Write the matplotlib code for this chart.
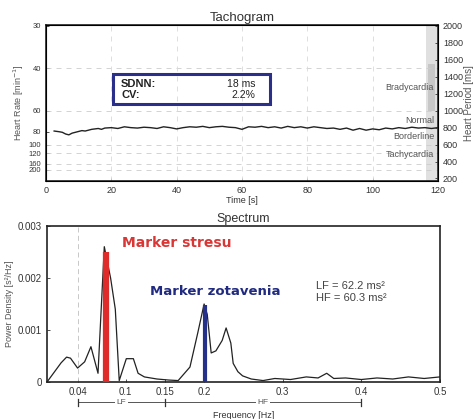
import matplotlib
matplotlib.use('Agg')
import matplotlib.pyplot as plt
import matplotlib.transforms as mtransforms

plt.rcParams['font.family'] = ['Liberation Sans', 'DejaVu Sans']

# tachogram: time [s] and heart period [ms]
time_s = [2.5, 4, 5, 6, 7, 8, 9, 10, 11, 12, 14, 16, 17, 18, 20, 22, 24, 26, 28, 30,
          32, 34, 36, 38, 40, 42, 44, 46, 48, 50, 52, 54, 56, 58, 60, 62, 64, 66, 68, 70,
          72, 74, 76, 78, 80, 82, 84, 86, 88, 90, 92, 94, 96, 98, 100, 102, 104, 106, 108,
          110, 112, 114, 116, 118, 120]
period_ms = [760, 752, 745, 725, 715, 735, 745, 755, 765, 760, 780, 790, 780, 795, 800, 790,
             810, 800, 795, 805, 800, 790, 810, 800, 785, 800, 810, 805, 815, 800, 810, 815,
             805, 800, 780, 810, 805, 815, 800, 810, 795, 815, 800, 810, 795, 810, 800, 790,
             795, 780, 795, 770, 790, 770, 785, 775, 795, 785, 800, 790, 805, 795, 800, 790, 800]

hr_ticks = [30, 40, 60, 80, 100, 120, 160, 200]
period_ticks = [200, 400, 600, 800, 1000, 1200, 1400, 1600, 1800, 2000]
time_ticks = [0, 20, 40, 60, 80, 100, 120]
zones = ['Bradycardia', 'Normal', 'Borderline', 'Tachycardia']
zone_levels = [1270, 880, 690, 480]

# spectrum: frequency [Hz] and power density [s^2/Hz]
freq = [0.0, 0.018, 0.025, 0.030, 0.039, 0.048, 0.056, 0.065, 0.073, 0.077, 0.081, 0.087,
        0.092, 0.101, 0.110, 0.116, 0.124, 0.14, 0.155, 0.167, 0.182, 0.192, 0.200, 0.204,
        0.209, 0.215, 0.223, 0.228, 0.234, 0.237, 0.243, 0.249, 0.26, 0.275, 0.29, 0.31,
        0.33, 0.345, 0.356, 0.365, 0.38, 0.40, 0.42, 0.44, 0.46, 0.48, 0.5]
psd = [0.0, 0.37, 0.48, 0.46, 0.27, 0.39, 0.68, 0.17, 2.6, 2.3, 2.0, 1.4, 0.03, 0.45, 0.45,
       0.17, 0.10, 0.06, 0.04, 0.03, 0.29, 0.95, 1.5, 1.3, 0.56, 0.60, 0.80, 1.04, 0.75,
       0.36, 0.20, 0.12, 0.06, 0.03, 0.07, 0.05, 0.10, 0.08, 0.17, 0.07, 0.08, 0.05, 0.08,
       0.06, 0.10, 0.07, 0.10]
psd = [v * 1e-3 for v in psd]
freq_ticks = [0.04, 0.1, 0.15, 0.2, 0.3, 0.4, 0.5]
psd_ticks = [0, 0.001, 0.002, 0.003]
stress_f, stress_p = 0.075, 0.0025
recov_f, recov_p = 0.201, 0.00149

txt = '#333333'
fig = plt.figure(figsize=(4.74, 4.19), dpi=100)

# ---------------- Tachogram ----------------
ax = fig.add_axes([0.097, 0.568, 0.827, 0.372])
ax.set_xlim(0, 120)
ax.set_ylim(170, 2010)
for p in [1500, 1000, 600, 500, 375, 300]:
    ax.axhline(p, color='0.8', lw=0.6, ls=(0, (6, 6)))
for t in time_ticks[1:-1]:
    ax.axvline(t, color='0.85', lw=0.6, ls=(0, (6, 6)))
ax.axvspan(116.2, 119.6, color='0.88', lw=0)
ax.axvspan(116.8, 119.2, ymin=0.45, ymax=0.75, color='0.78', lw=0)
ax.plot(time_s, period_ms, color='#222222', lw=1.0)
for name, lvl in zip(zones, zone_levels):
    ax.text(118.8, lvl, name, ha='right', va='center', fontsize=6.5, color='#555555')

ax.set_xticks(time_ticks)
ax.set_yticks([60000 / h for h in hr_ticks])
ax.set_yticklabels([str(h) for h in hr_ticks])
ax.tick_params(direction='in', labelsize=6.5, colors=txt, length=2, width=0.6)
ax.tick_params(axis='y', labelsize=5.5)
ax.set_title('Tachogram', fontsize=9.5, color=txt, pad=3)
ax.set_xlabel('Time [s]', fontsize=6.5, color=txt, labelpad=1)
ax.set_ylabel('Heart Rate [min$^{-1}$]', fontsize=6.5, color='#555555', labelpad=2)
for s in ax.spines.values():
    s.set_linewidth(1.2)
    s.set_color('#222222')

ax2 = ax.twinx()
ax2.set_ylim(170, 2010)
ax2.set_yticks(period_ticks)
ax2.tick_params(direction='in', labelsize=6.5, colors=txt, length=2, width=0.6)
ax2.set_ylabel('Heart Period [ms]', fontsize=7, color='#555555', labelpad=1)

ax.add_patch(plt.Rectangle((20.5, 1080), 48, 350, fill=False, ec='#2a2f8a', lw=2.2, zorder=5))
ax.text(23, 1320, 'SDNN:', fontsize=8, fontweight='bold', color='#222222', va='center')
ax.text(23, 1180, 'CV:', fontsize=8, fontweight='bold', color='#222222', va='center')
ax.text(64, 1320, '18 ms', fontsize=7.5, color='#222222', va='center', ha='right')
ax.text(64, 1180, '2.2%', fontsize=7.5, color='#222222', va='center', ha='right')

# ---------------- Spectrum ----------------
bx = fig.add_axes([0.099, 0.088, 0.829, 0.373])
bx.set_xlim(0, 0.5)
bx.set_ylim(0, 0.003)
bx.axvline(0.04, color='0.75', lw=0.6, ls=(0, (6, 4)))
bx.plot(freq, psd, color='#222222', lw=0.9)
bx.vlines(stress_f, 0, stress_p, color='#e02b2b', lw=4.5, zorder=3)
bx.vlines(recov_f, 0, recov_p, color='#24308a', lw=3, zorder=3)
bx.text(0.095, 0.00268, 'Marker stresu', fontsize=10, fontweight='bold', color='#d93636',
        family='DejaVu Sans', va='center')
bx.text(0.131, 0.00174, 'Marker zotavenia', fontsize=9.5, fontweight='bold', color='#1f2a80',
        family='DejaVu Sans', va='center')
bx.text(0.342, 0.00184, 'LF = 62.2 ms²', fontsize=8, color='#444444', va='center')
bx.text(0.342, 0.00162, 'HF = 60.3 ms²', fontsize=8, color='#444444', va='center')

bx.set_xticks(freq_ticks)
bx.set_xticklabels(['0.04', '0.1', '0.15', '0.2', '0.3', '0.4', '0.5'])
bx.set_yticks(psd_ticks)
bx.set_yticklabels(['0', '0.001', '0.002', '0.003'])
bx.tick_params(direction='in', labelsize=7, colors=txt, length=2, width=0.6)
bx.set_title('Spectrum', fontsize=9, color=txt, pad=3)
bx.set_ylabel('Power Density [s²/Hz]', fontsize=6.5, color='#555555', labelpad=3)
bx.set_xlabel('Frequency [Hz]', fontsize=6.5, color=txt, labelpad=10)
for s in bx.spines.values():
    s.set_linewidth(1.2)
    s.set_color('#222222')

# LF / HF band brackets under the axis
trans = mtransforms.blended_transform_factory(bx.transData, bx.transAxes)
yb = -0.13
bx.plot([0.04, 0.4], [yb, yb], color='#555555', lw=0.7, transform=trans, clip_on=False)
for f in [0.04, 0.15, 0.4]:
    bx.plot([f, f], [yb - 0.025, yb + 0.025], color='#333333', lw=0.9, transform=trans, clip_on=False)
for lab, f in [('LF', 0.095), ('HF', 0.275)]:
    bx.text(f, yb, lab, fontsize=6, color='#555555', ha='center', va='center', transform=trans,
            bbox=dict(fc='white', ec='none', pad=1))

fig.savefig('out.png', dpi=100)
